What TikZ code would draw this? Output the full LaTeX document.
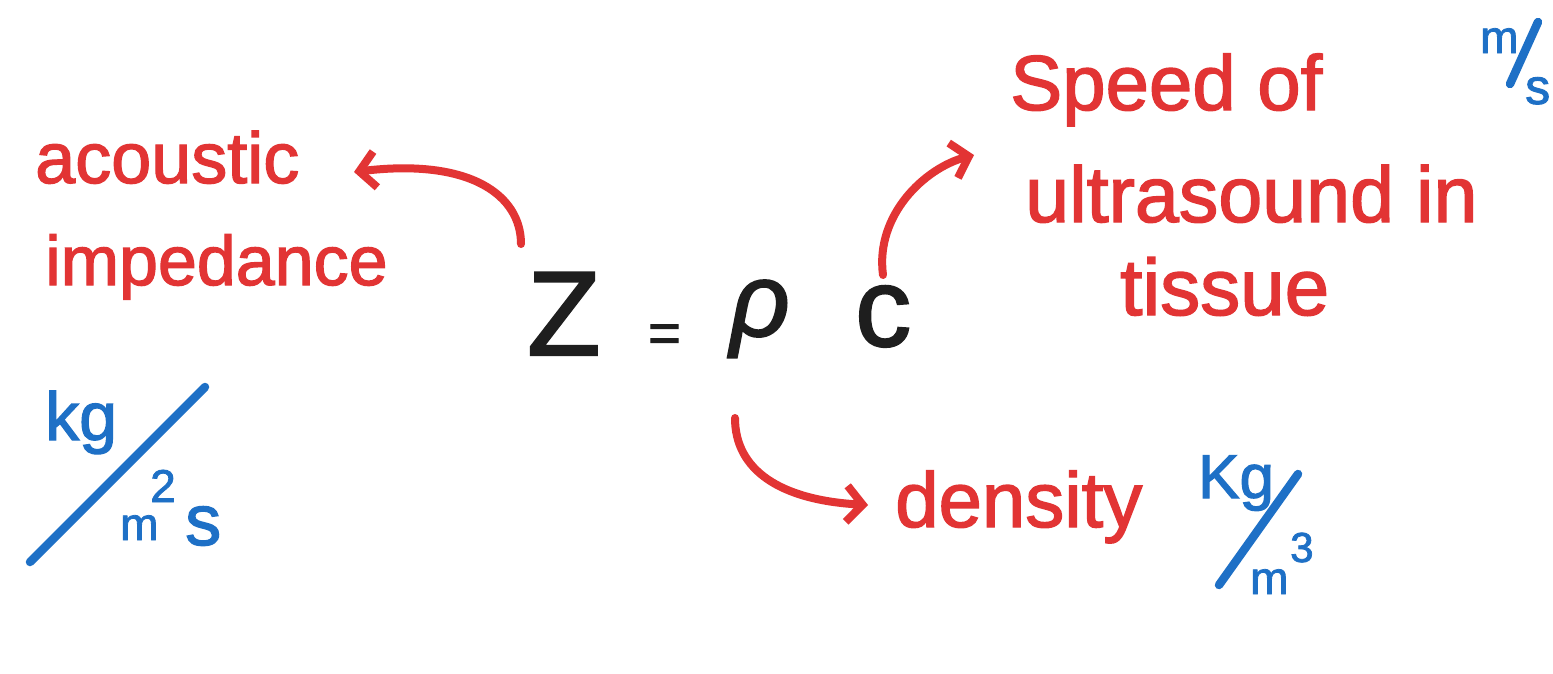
\documentclass[tikz,border=0pt]{standalone}
\usepackage{fontspec}
\setmainfont{Liberation Sans}[FakeBold=1.8]
\usetikzlibrary{arrows.meta}
\definecolor{inkred}{RGB}{226,52,52}
\definecolor{inkblue}{RGB}{30,112,198}
\definecolor{inkblack}{RGB}{30,30,30}
\newcommand{\fs}[1]{\fontsize{#1}{#1}\selectfont}
\tikzset{
  redtxt/.style={text=inkred, inner sep=0pt, anchor=base west},
  bluetxt/.style={text=inkblue, inner sep=0pt, anchor=base west},
  blacktxt/.style={text=inkblack, inner sep=0pt, anchor=base west},
  redarrow/.style={draw=inkred, line width=8pt, line cap=round, line join=round,
    -{Straight Barb[length=16pt,width=36pt,line width=8pt]}},
  blueslash/.style={draw=inkblue, line width=8.5pt, line cap=round},
}
\begin{document}
\begin{tikzpicture}[x=1pt,y=-1pt]
\useasboundingbox (0,0) rectangle (1553,673);
\fill[white] (0,0) rectangle (1553,673);
% left labels
\node[redtxt] (acoustic) at (35,183) {\fs{72}acoustic};
\node[redtxt] (imped) at (45,285) {\fs{70}impedance};
% left units
\node[bluetxt] (kgL) at (45,440) {\fs{68}kg};
\coordinate (slLa) at (30,562);
\coordinate (slLb) at (205,387);
\draw[blueslash] (slLa) -- (slLb);
\node[bluetxt] (mL) at (120,540) {\fs{46}m};
\node[bluetxt] (twoL) at (150,502) {\fs{46}2};
\node[bluetxt] (sL) at (185,545) {\fs{72}s};
% equation
\node[blacktxt] (Z) at (527,355) {\fs{120}Z};
\node[blacktxt] (eq) at (648,352) {\fs{56}=};
\node[blacktxt] (rho) at (730,336) {\fs{104}\itshape ρ};
\node[blacktxt] (c) at (855,346) {\fs{112}c};
% right labels
\node[redtxt] (speed) at (1010,110) {\fs{78}Speed of};
\node[redtxt] (ultra) at (1025,222) {\fs{79}ultrasound in};
\node[redtxt] (tissue) at (1120,315) {\fs{80}tissue};
\node[redtxt] (density) at (895,527) {\fs{78}density};
% top-right units
\node[bluetxt] (mTR) at (1480,53) {\fs{46}m};
\coordinate (slTa) at (1510,84);
\coordinate (slTb) at (1538,22);
\draw[blueslash] (slTa) -- (slTb);
\node[bluetxt] (sTR) at (1525,104) {\fs{50}s};
% density units
\node[bluetxt] (kgD) at (1198,498) {\fs{62}Kg};
\coordinate (slDa) at (1219,585);
\coordinate (slDb) at (1298,474);
\draw[blueslash] (slDa) -- (slDb);
\node[bluetxt] (mD) at (1250,594) {\fs{46}m};
\node[bluetxt] (threeD) at (1290,562) {\fs{42}3};
% arrows
\coordinate (aL0) at (521,244);
\coordinate (aL1) at (354,172);
\draw[redarrow] (aL0) .. controls (521,195) and (470,158) .. (aL1);
\coordinate (aR0) at (883,275);
\coordinate (aR1) at (974,155);
\draw[redarrow] (aR0) .. controls (875,215) and (925,168) .. (aR1);
\coordinate (aD0) at (735,418);
\coordinate (aD1) at (868,505);
\draw[redarrow] (aD0) .. controls (735,470) and (780,500) .. (aD1);
\end{tikzpicture}
\end{document}
